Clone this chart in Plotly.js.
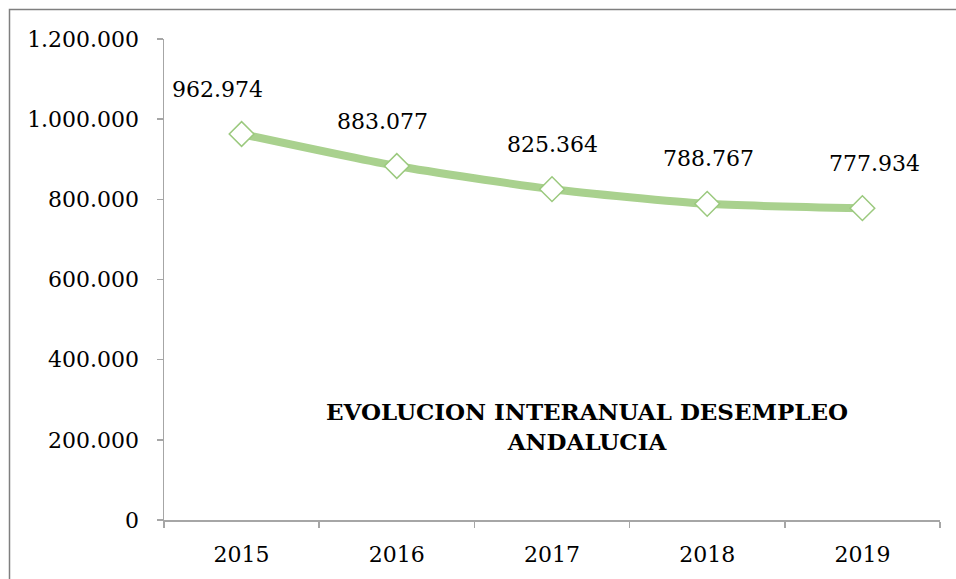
<!DOCTYPE html>
<html>
<head>
<meta charset="utf-8">
<script src="https://cdn.plot.ly/plotly-3.0.1.min.js"></script>
<style>
html,body{margin:0;padding:0;background:#fff;}
#chart{width:956px;height:579px;}
</style>
</head>
<body>
<div id="chart"></div>
<script>
const years = ['2015', '2016', '2017', '2018', '2019'];
const parados = [962974, 883077, 825364, 788767, 777934];
const yTickVals = [0, 200000, 400000, 600000, 800000, 1000000, 1200000];
const yTickText = ['0', '200.000', '400.000', '600.000', '800.000', '1.000.000', '1.200.000'];
const chartTitle = 'EVOLUCION INTERANUAL DESEMPLEO<br>ANDALUCIA';

function fmt(v) {
  return v.toString().replace(/\B(?=(\d{3})+(?!\d))/g, '.');
}

const labelXShift = [-24, -14, 0, 1, 12];

const font = 'DejaVu Serif, serif';
const W = 956, H = 579;
const margin = {l: 164, r: 16, t: 39, b: 59};
const pw = W - margin.l - margin.r, ph = H - margin.t - margin.b;

const trace = {
  x: years,
  y: parados,
  type: 'scatter',
  mode: 'lines+markers',
  line: {color: '#A9D18E', width: 8, shape: 'spline', smoothing: 0.6},
  marker: {symbol: 'diamond', size: 19, color: '#ffffff', line: {color: '#9BC97E', width: 1.5}},
  hoverinfo: 'skip',
  cliponaxis: false
};

const annotations = years.map((yr, i) => ({
  x: i, y: parados[i], xref: 'x', yref: 'y',
  text: fmt(parados[i]), showarrow: false,
  yshift: 45, xshift: labelXShift[i],
  font: {family: font, size: 22, color: '#000'}
}));
annotations.push({
  xref: 'paper', yref: 'paper', x: 0.545, y: 0.13,
  text: chartTitle, showarrow: false, align: 'center',
  font: {family: font, size: 23, color: '#000', weight: 'bold'}
});

const layout = {
  width: W, height: H,
  margin: margin,
  paper_bgcolor: '#fff', plot_bgcolor: '#fff',
  showlegend: false,
  xaxis: {
    type: 'category',
    tickson: 'boundaries',
    ticks: 'outside', ticklen: 6, tickcolor: '#A6A6A6', tickwidth: 1.5,
    showline: true, linecolor: '#A6A6A6', linewidth: 1.5,
    showgrid: false, zeroline: false,
    tickfont: {family: font, size: 22, color: '#000'},
    ticklabelstandoff: 14,
    range: [-0.5, 4.5], fixedrange: true
  },
  yaxis: {
    range: [0, 1200000],
    tickvals: yTickVals, ticktext: yTickText,
    ticks: 'outside', ticklen: 6, tickcolor: '#A6A6A6', tickwidth: 1.5,
    showline: true, linecolor: '#A6A6A6', linewidth: 1.5,
    showgrid: false, zeroline: false,
    tickfont: {family: font, size: 22, color: '#000'},
    ticklabelstandoff: 13,
    fixedrange: true
  },
  annotations: annotations,
  shapes: [{
    type: 'rect', xref: 'paper', yref: 'paper',
    x0: (9.5 - margin.l) / pw, x1: (W + 20 - margin.l) / pw,
    y0: -(H + 20 - margin.t - ph) / ph, y1: (H - 9.5 - margin.b) / ph,
    line: {color: '#7F7F7F', width: 1.5}, fillcolor: 'rgba(0,0,0,0)', layer: 'below'
  }]
};

Plotly.newPlot('chart', [trace], layout, {displayModeBar: false, staticPlot: true});
</script>
</body>
</html>
